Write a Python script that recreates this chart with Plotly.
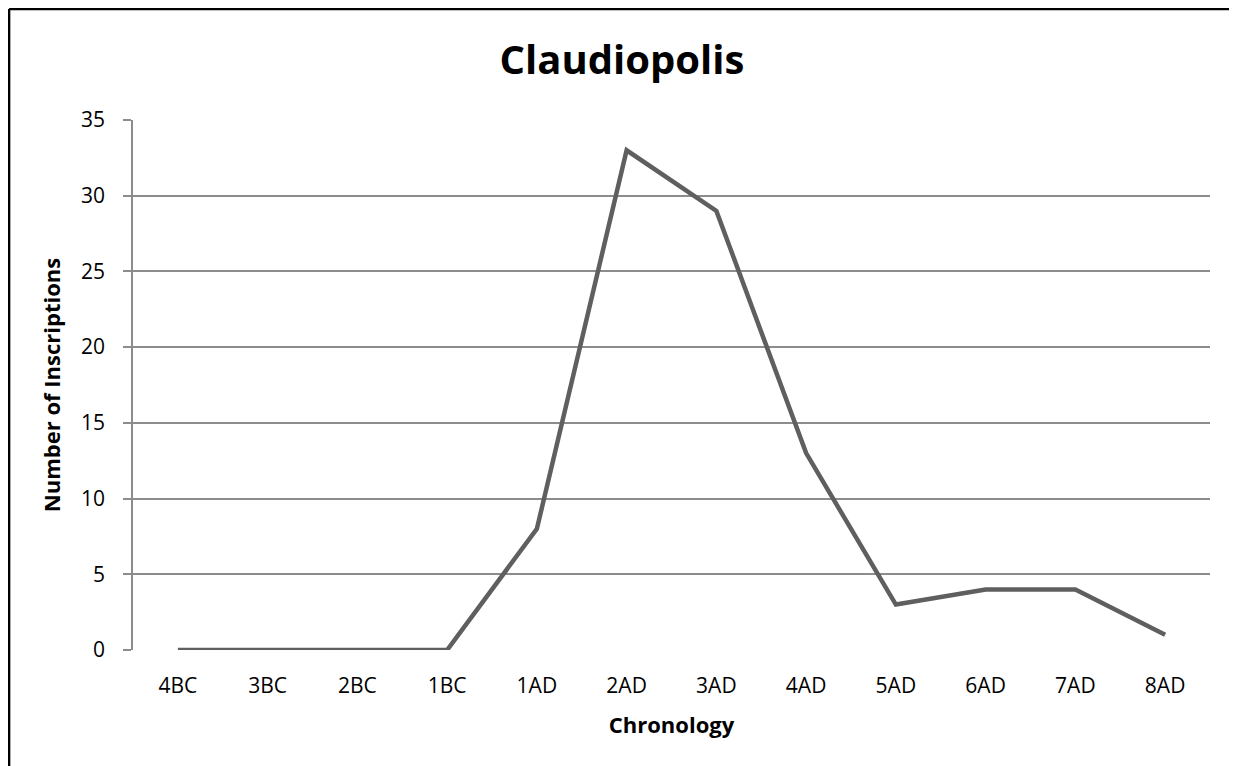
import plotly.graph_objects as go

TITLE = "Claudiopolis"

periods = ["4BC", "3BC", "2BC", "1BC", "1AD", "2AD", "3AD", "4AD", "5AD", "6AD", "7AD", "8AD"]
inscriptions = [0, 0, 0, 0, 8, 33, 29, 13, 3, 4, 4, 1]
y_ticks = [0, 5, 10, 15, 20, 25, 30, 35]

FONT = "Open Sans, Noto Sans, sans-serif"
GRID = "#8c8c8c"

# page has an 8px body margin, so the figure is drawn 8px in from the window edge
W, H = 1237, 766
L, T = 125, 112
PW, PH = 1077, 530

fig = go.Figure()
fig.add_trace(go.Scatter(
    x=periods,
    y=inscriptions,
    mode="lines",
    line=dict(color="#5f5f5f", width=4.5),
    showlegend=False,
))

fig.layout.title = dict(
    text="<b>" + TITLE + "</b>",
    x=614 / W, xref="container", xanchor="center",
    y=1 - 52 / H, yref="container", yanchor="middle",
    font=dict(family=FONT, size=40, color="#000000"),
)

fig.update_xaxes(
    type="category",
    range=[-0.5, 11.5],
    showgrid=False,
    showline=False,
    ticks="",
    ticklabelstandoff=21,
    tickfont=dict(family=FONT, size=21, color="#000000"),
    title=dict(text="<b>Chronology</b>", font=dict(family=FONT, size=22, color="#000000"), standoff=19),
    fixedrange=True,
)
fig.update_yaxes(
    range=[0, 35],
    tickvals=y_ticks,
    showgrid=True,
    gridcolor=GRID,
    gridwidth=1.5,
    showline=True,
    linecolor=GRID,
    linewidth=1.5,
    ticks="outside",
    ticklen=8,
    tickcolor=GRID,
    tickwidth=1.5,
    ticklabelstandoff=14,
    zeroline=False,
    tickfont=dict(family=FONT, size=21, color="#000000"),
    title=dict(text="<b>Number of Inscriptions</b>", font=dict(family=FONT, size=22, color="#000000"), standoff=14),
    fixedrange=True,
)

# outer chart border: only the left and top edges are visible in the frame
x_left = -L / PW + 0.001
y_top = 1 + T / PH - 0.002
border = dict(color="#000000", width=2.5)
fig.add_shape(type="line", xref="paper", yref="paper",
              x0=x_left, x1=x_left, y0=-0.4, y1=y_top, line=border)
fig.add_shape(type="line", xref="paper", yref="paper",
              x0=x_left, x1=1.2, y0=y_top, y1=y_top, line=border)

fig.update_layout(
    width=W,
    height=H,
    margin=dict(l=L, r=W - L - PW, t=T, b=H - T - PH),
    paper_bgcolor="#ffffff",
    plot_bgcolor="#ffffff",
    dragmode=False,
)

fig.write_html("out.html", config={"displayModeBar": False})
